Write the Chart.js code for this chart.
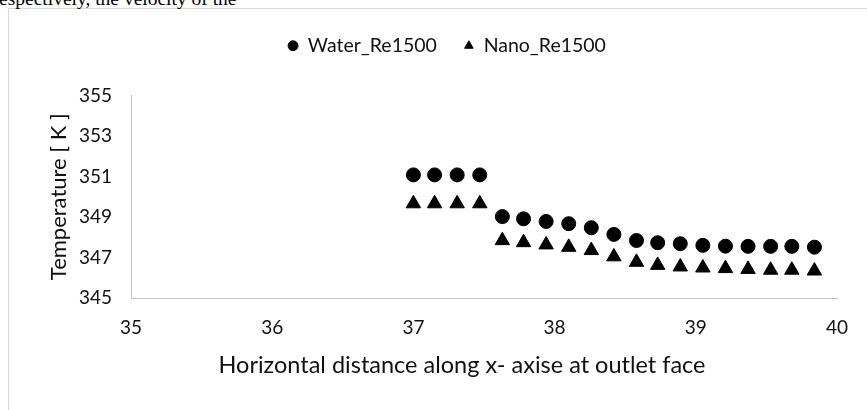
<!DOCTYPE html>
<html>
<head>
<meta charset="utf-8">
<script src="https://cdn.jsdelivr.net/npm/chart.js@4"></script>
<style>
  html, body { margin: 0; padding: 0; background: #fff; overflow: hidden; width: 867px; height: 410px; }
  #docline {
    position: absolute; left: -1px; top: -11px; z-index: 2;
    font-family: "Liberation Serif", "Times New Roman", serif;
    font-size: 19.5px; line-height: 19px; color: #000; white-space: nowrap;
  }
  #frame { position: absolute; left: 8px; top: 8px; width: 900px; height: 420px; border: 1px solid #d9d9d9; background: #fff; }
  canvas { display: block; }
</style>
</head>
<body>
<div id="docline">espectively, the velocity of the</div>
<div id="frame"><canvas id="tempChart" width="900" height="420"></canvas></div>
<script>
// horizontal positions of the outlet samples
const xPositions = [37.00, 37.15, 37.31, 37.47, 37.63, 37.78, 37.94, 38.10, 38.26, 38.42,
                    38.58, 38.73, 38.89, 39.05, 39.21, 39.37, 39.53, 39.68, 39.84];
const waterRe1500 = [351.08, 351.08, 351.08, 351.08, 349.02, 348.91, 348.78, 348.67, 348.47, 348.14,
                     347.84, 347.73, 347.68, 347.60, 347.56, 347.55, 347.55, 347.55, 347.51];
const nanoRe1500 = [349.66, 349.66, 349.66, 349.66, 347.84, 347.74, 347.63, 347.51, 347.35, 347.04,
                    346.77, 346.62, 346.54, 346.49, 346.46, 346.42, 346.38, 346.38, 346.34];
const xTickValues = [35, 36, 37, 38, 39, 40];
const yTickValues = [345, 347, 349, 351, 353, 355];
const xTitle = "Horizontal distance along x- axise at outlet face";
const yTitle = "Temperature [ K ]";

const textColor = "#111";
const axisColor = "#c4c4c4";
Chart.defaults.font.family = "Lato, 'Open Sans', sans-serif";
Chart.defaults.font.size = 19;
Chart.defaults.color = textColor;

const toPoints = (ys) => xPositions.map((x, i) => ({ x: x, y: ys[i] }));

// x axis title sits a little left of the plot centre, as in the original
const xTitlePlugin = {
  id: "xTitle",
  afterDraw(chart) {
    const { ctx, chartArea } = chart;
    ctx.save();
    ctx.font = "23.5px Lato, 'Open Sans', sans-serif";
    ctx.fillStyle = textColor;
    ctx.textAlign = "center";
    ctx.textBaseline = "middle";
    ctx.fillText(xTitle, chartArea.left + 331, chartArea.bottom + 67);
    ctx.restore();
  }
};

const ctx = document.getElementById("tempChart").getContext("2d");
const tempChart = new Chart(ctx, {
  type: "scatter",
  data: {
    datasets: [
      {
        label: "Water_Re1500",
        data: toPoints(waterRe1500),
        pointStyle: "circle",
        pointRadius: 7,
        pointHoverRadius: 7,
        borderWidth: 1,
        backgroundColor: "#000",
        borderColor: "#000"
      },
      {
        label: "Nano_Re1500",
        data: toPoints(nanoRe1500),
        pointStyle: "triangle",
        pointRadius: 8.3,
        pointHoverRadius: 8.3,
        borderWidth: 1,
        backgroundColor: "#000",
        borderColor: "#000"
      }
    ]
  },
  options: {
    responsive: false,
    animation: false,
    layout: { padding: { left: 48, right: 72, top: 0, bottom: 0 } },
    plugins: {
      tooltip: { enabled: false },
      legend: {
        position: "top",
        labels: {
          usePointStyle: true,
          boxWidth: 10,
          boxHeight: 7,
          padding: 27,
          color: textColor,
          font: { size: 19.5 }
        }
      },
      // empty spacer between legend and plot
      title: {
        display: true,
        text: "",
        weight: 500,
        padding: { top: 30, bottom: 0 },
        font: { size: 1, lineHeight: 0 }
      }
    },
    scales: {
      x: {
        type: "linear",
        min: 35,
        max: 40,
        afterFit: (s) => { s.height = 131; },
        afterBuildTicks: (s) => { s.ticks = xTickValues.map((v) => ({ value: v })); },
        grid: { display: false, drawTicks: false },
        border: { display: true, color: axisColor, width: 1 },
        ticks: { padding: 18, color: textColor, font: { size: 19 } }
      },
      y: {
        type: "linear",
        min: 345,
        max: 355,
        afterFit: (s) => { s.width = 74; },
        afterBuildTicks: (s) => { s.ticks = yTickValues.map((v) => ({ value: v })); },
        grid: { display: false, drawTicks: false },
        border: { display: true, color: axisColor, width: 1 },
        ticks: { padding: 19, color: textColor, font: { size: 19 } },
        title: {
          display: true,
          text: yTitle,
          color: textColor,
          font: { size: 22 },
          padding: { top: -11.2, bottom: 0 }
        }
      }
    }
  },
  plugins: [xTitlePlugin]
});
</script>
</body>
</html>
